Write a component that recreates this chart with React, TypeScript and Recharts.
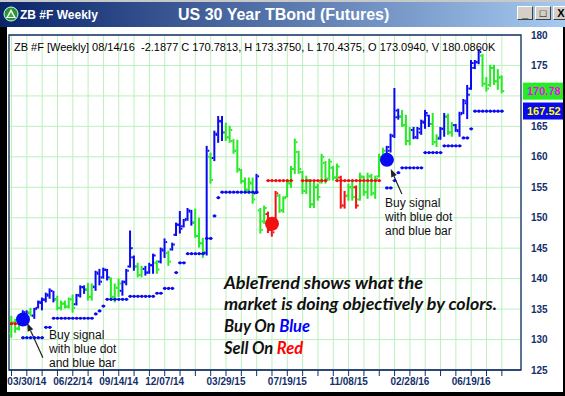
import React from 'react';
import {
  ComposedChart, Bar, Scatter, XAxis, YAxis, CartesianGrid,
  ReferenceArea, ReferenceLine,
} from 'recharts';

// ---- weekly OHLC bars (week 0 = 03/02/14 ... week 128 = 08/14/16) ----
const highs = [
  133.9, 133.4, 134.1, 134.8, 134.8, 135.2, 135.2, 136.4, 136.9, 137.7,
  138.4, 138.0, 137.2, 136.4, 136.4, 136.9, 137.4, 137.5, 138.9, 138.9,
  139.3, 139.2, 141.3, 141.6, 141.8, 141.6, 140.2, 139.2, 140.0, 139.7,
  141.6, 147.9, 143.8, 142.6, 142.1, 142.1, 142.6, 144.1, 143.0, 145.1,
  146.6, 144.6, 145.9, 149.2, 151.1, 149.8, 151.6, 151.3, 151.5, 150.0,
  146.7, 161.8, 160.7, 164.3, 166.7, 166.7, 165.6, 165.1, 162.9, 162.8,
  158.0, 156.6, 156.6, 156.6, 157.2, 151.6, 152.0, 151.0, 149.5, 154.4,
  153.9, 153.5, 156.1, 158.5, 163.0, 161.0, 157.7, 156.9, 156.1, 156.1,
  155.6, 160.5, 159.3, 159.7, 158.5, 158.9, 156.9, 154.4, 155.6, 156.1,
  155.3, 157.4, 156.9, 157.4, 157.2, 156.9, 160.5, 161.5, 161.8, 163.8,
  171.3, 167.9, 167.7, 166.9, 164.9, 164.9, 164.9, 166.1, 167.7, 166.9,
  167.2, 163.7, 164.9, 167.2, 167.1, 165.7, 165.4, 167.4, 169.5, 171.8,
  175.9, 175.9, 177.7, 176.9, 173.1, 175.1, 175.1, 174.4, 173.375,
];
const lows = [
  130.3, 131.1, 131.5, 132.3, 133.1, 133.8, 133.4, 135.1, 134.8, 136.1,
  136.7, 136.1, 134.8, 134.8, 135.1, 135.1, 134.4, 135.6, 136.9, 137.5,
  136.4, 136.4, 138.0, 138.9, 140.0, 139.7, 136.4, 136.1, 137.0, 137.2,
  138.9, 141.8, 141.3, 140.2, 140.2, 140.5, 140.8, 140.8, 140.8, 142.5,
  143.4, 142.1, 144.6, 147.0, 147.4, 148.4, 149.5, 148.7, 146.7, 145.1,
  143.4, 143.8, 155.6, 159.3, 162.3, 162.6, 162.6, 162.3, 160.5, 157.4,
  155.6, 154.0, 154.0, 152.3, 153.9, 147.4, 149.0, 147.5, 146.9, 148.4,
  150.8, 150.8, 153.3, 154.9, 157.2, 157.2, 153.9, 153.9, 151.6, 151.6,
  152.8, 155.6, 155.6, 156.1, 156.1, 156.1, 151.5, 151.5, 152.8, 152.8,
  151.5, 152.8, 153.6, 153.1, 153.6, 153.1, 156.6, 159.3, 159.3, 160.7,
  163.1, 166.1, 164.9, 161.9, 161.9, 162.9, 162.9, 163.6, 164.6, 164.9,
  161.9, 161.6, 162.8, 163.3, 163.6, 163.3, 164.1, 163.3, 167.0, 166.2,
  171.0, 174.4, 175.2, 171.5, 170.7, 171.5, 171.8, 171.0, 170.4375,
];
const opens = [
  131.0, 132.8, 131.8, 132.6, 133.5, 134.4, 133.9, 135.2, 136.0, 136.5,
  137.2, 138.0, 136.6, 135.2, 135.9, 135.4, 136.6, 135.8, 137.2, 138.6,
  138.2, 137.0, 138.6, 140.8, 140.2, 141.4, 140.0, 137.0, 138.5, 138.0,
  139.4, 142.0, 143.5, 142.0, 140.6, 141.6, 141.0, 142.2, 142.6, 142.8,
  144.6, 144.2, 144.8, 147.2, 148.8, 148.6, 149.8, 151.0, 149.2, 147.0,
  145.8, 144.2, 160.0, 159.8, 163.6, 165.8, 164.0, 163.2, 162.6, 161.0,
  157.8, 156.0, 154.6, 155.6, 154.0, 151.2, 149.4, 150.6, 148.0, 148.6,
  153.6, 151.2, 153.4, 155.6, 158.0, 160.8, 157.5, 154.4, 156.0, 152.2,
  155.0, 155.8, 159.0, 156.4, 158.2, 156.6, 156.6, 152.0, 153.6, 155.0,
  155.0, 153.0, 156.6, 154.2, 156.8, 154.0, 156.8, 159.6, 159.6, 161.0,
  163.4, 167.6, 166.6, 165.2, 162.6, 164.4, 163.2, 164.0, 165.6, 166.8,
  165.4, 162.4, 163.0, 164.6, 166.6, 164.0, 165.2, 164.2, 167.2, 168.8,
  171.2, 174.6, 175.5, 176.6, 172.0, 171.8, 174.6, 172.4, 173.094,
];
const closes = [
  132.8, 131.8, 133.5, 134.5, 134.4, 134.0, 135.0, 136.2, 136.6, 137.4,
  138.0, 136.6, 135.2, 135.9, 135.4, 136.6, 135.2, 137.3, 138.6, 138.2,
  137.0, 138.8, 141.0, 139.5, 141.5, 140.2, 137.0, 138.5, 139.2, 139.5,
  141.3, 145.0, 142.0, 140.6, 141.6, 141.0, 142.2, 143.8, 141.5, 144.8,
  146.0, 142.8, 145.6, 148.9, 148.2, 149.6, 151.2, 149.2, 147.0, 145.8,
  144.4, 161.0, 156.2, 163.8, 165.9, 164.0, 163.2, 164.4, 161.0, 158.0,
  156.0, 154.6, 155.8, 153.0, 156.8, 148.0, 151.6, 148.0, 147.6, 154.0,
  151.2, 153.2, 155.8, 158.0, 162.4, 158.0, 154.4, 156.2, 152.2, 155.0,
  153.4, 160.0, 156.4, 159.2, 156.6, 158.4, 152.0, 153.6, 155.0, 153.4,
  152.0, 156.8, 154.2, 156.8, 154.0, 156.4, 160.0, 161.0, 161.6, 163.5,
  166.5, 166.6, 165.2, 162.6, 164.4, 163.2, 164.6, 165.8, 167.2, 165.4,
  162.4, 163.2, 164.6, 166.6, 164.0, 165.2, 164.4, 167.0, 169.2, 170.2,
  175.4, 175.6, 177.2, 172.0, 171.2, 174.6, 172.4, 172.97, 170.7813,
];
// AbleTrend colour of each bar: B = up trend, G = neutral, R = down trend
const trendColors = [
  'G','G','G','B','B','G','B','B','B','B',
  'B','B','G','G','G','G','G','B','B','B',
  'G','G','B','B','B','B','G','G','G','B',
  'B','B','B','G','G','B','B','B','G','B',
  'B','G','B','B','B','B','B','B','G','G',
  'G','B','G','B','B','B','G','G','G','G',
  'G','G','G','G','B','G','G','R','R','R',
  'G','G','G','G','G','G','G','G','G','G',
  'G','G','G','G','G','G','R','R','G','G',
  'R','G','G','G','G','G','G','G','B','B',
  'B','B','G','G','G','B','B','B','B','B',
  'G','G','B','B','G','G','B','B','B','B',
  'B','B','B','G','G','G','G','G','G',
];

// ---- stop levels: [first week, last week, level] ----
const blueStopRuns = [
  [3, 8, 130.3], [9, 10, 132.0], [11, 21, 133.5], [22, 22, 134.2], [23, 23, 134.7],
  [24, 24, 135.5], [25, 30, 136.6], [31, 37, 137.1], [38, 39, 137.6], [40, 42, 138.4],
  [43, 43, 141.0], [44, 45, 142.6], [46, 50, 144.1], [51, 52, 146.6], [53, 53, 150.3],
  [54, 54, 153.3], [55, 64, 154.2],
  [98, 99, 154.9], [100, 100, 156.1], [101, 101, 157.4], [102, 107, 158.2],
  [108, 112, 160.7], [113, 117, 161.8], [118, 119, 163.1], [120, 120, 164.6],
  [121, 128, 167.5],
];
const redStopRuns = [
  [0, 2, 132.6], [67, 73, 156.1], [76, 82, 156.1], [85, 96, 156.1],
];
// ---- signal dots ----
const buySignals = [{ i: 3, v: 133.3 }, { i: 98, v: 159.5 }];
const sellSignals = [{ i: 68, v: 149.0 }];

// ---- axis ticks ----
const xTickWeeks = [0, 4, 8, 12, 16, 20, 24, 28, 32, 36, 40, 44, 48, 52, 56, 60, 64,
  68, 72, 76, 80, 84, 88, 92, 96, 100, 104, 108, 112, 116, 120, 124, 128];
const labelWeeks = [4, 16, 28, 40, 56, 72, 88, 104, 120];
const labelTexts = ['03/30/14', '06/22/14', '09/14/14', '12/07/14', '03/29/15',
  '07/19/15', '11/08/15', '02/28/16', '06/19/16'];
const yTicks = [125, 130, 135, 140, 145, 150, 155, 160, 165, 170, 175, 180];
// tick label hidden behind the last-price tag
const yHiddenLabels = [170];

const lastClose = 170.7813;
const lastStop = 167.52;

const COLORS: Record<string, string> = { B: '#0a0af2', G: '#26ea26', R: '#f21010' };
const NAVY = '#14306a';
const FONT = '"Liberation Sans", Arial, sans-serif';

const bars = highs.map((h, i) => ({
  i, range: [lows[i], h], o: opens[i], c: closes[i], col: trendColors[i],
}));
const expand = (runs: number[][]) =>
  runs.flatMap(([a, b, v]) => {
    const out: { i: number; v: number }[] = [];
    for (let k = a; k <= b; k++) out.push({ i: k, v });
    return out;
  });
const blueStops = expand(blueStopRuns);
const redStops = expand(redStopRuns);

const OhlcShape = (props: any) => {
  const { x, y, width, height, payload } = props;
  if (x == null || y == null) return null;
  const top = Math.min(y, y + height);
  const h = Math.abs(height);
  const cx = x + width / 2;
  const [lo, hi] = payload.range;
  const span = hi - lo || 1;
  const yo = top + ((hi - payload.o) / span) * h;
  const yc = top + ((hi - payload.c) / span) * h;
  const color = COLORS[payload.col];
  return (
    <g>
      <rect x={cx - 1} y={top} width={2} height={Math.max(h, 1)} fill={color} />
      <rect x={cx - 2.6} y={yo - 1} width={1.6} height={2} fill={color} />
      <rect x={cx + 1} y={yc - 1} width={1.6} height={2} fill={color} />
    </g>
  );
};

const stopShape = (color: string) => (props: any) => {
  const { cx, cy } = props;
  return (
    <g>
      <rect x={cx - 1.95} y={cy - 0.6} width={3.9} height={1.2} fill={color} />
      <circle cx={cx} cy={cy} r={1.6} fill={color} />
    </g>
  );
};

const bigDot = (color: string) => (props: any) => (
  <circle cx={props.cx} cy={props.cy} r={7} fill={color} />
);

const Arrow = (props: any) => {
  const { x1, y1, x2, y2 } = props;
  const ang = Math.atan2(y2 - y1, x2 - x1);
  const L = 8, W = 3;
  const bx = x2 - L * Math.cos(ang), by = y2 - L * Math.sin(ang);
  const px = -Math.sin(ang) * W, py = Math.cos(ang) * W;
  return (
    <g>
      <line x1={x1} y1={y1} x2={bx} y2={by} stroke="#222" strokeWidth={1.2} />
      <polygon points={`${x2},${y2} ${bx + px},${by + py} ${bx - px},${by - py}`} fill="#222" />
    </g>
  );
};

const PriceTag = (props: any) => {
  const { viewBox, text, bg, fg } = props;
  if (!viewBox) return null;
  const right = viewBox.x + viewBox.width;
  const cy = viewBox.y;
  return (
    <g>
      <rect x={right + 2} y={cy - 8.5} width={50} height={17} fill={bg} />
      <text x={right + 6} y={cy + 4} fill={fg} fontSize={11} fontWeight="bold" fontFamily={FONT}>{text}</text>
    </g>
  );
};

const WinButton = ({ left, children }: { left: number; children: React.ReactNode }) => (
  <div style={{
    position: 'absolute', left, top: 6, width: 16, height: 14, background: '#d4d0c8',
    borderTop: '1px solid #fff', borderLeft: '1px solid #fff',
    borderRight: '1px solid #404040', borderBottom: '1px solid #404040', boxSizing: 'border-box',
    fontFamily: FONT, fontWeight: 'bold', fontSize: 11, lineHeight: '12px', textAlign: 'center', color: '#000',
  }}>{children}</div>
);

export default function App() {
  const headerText = 'ZB #F [Weekly] 08/14/16  -2.1877 C 170.7813, H 173.3750, L 170.4375, O 173.0940, V 180.0860K';
  return (
    <div style={{ position: 'absolute', left: 0, top: 0, width: 565, height: 396, background: '#000', overflow: 'hidden' }}>
      <div style={{ position: 'absolute', left: 0, top: 0, width: 565, height: 2, background: '#c8c8c8' }} />
      <div style={{
        position: 'absolute', left: 0, top: 2, width: 565, height: 25,
        background: 'linear-gradient(to right, #0a246a, #a6caf0)',
      }} />
      <svg width={18} height={18} style={{ position: 'absolute', left: 3, top: 6 }}>
        <circle cx={8} cy={8} r={7} fill="#2f8f3a" stroke="#cfe" strokeWidth={1} />
        <polygon points="8,3 13,12 3,12" fill="#fff" />
        <polygon points="8,6 11,11 5,11" fill="#3cb043" />
      </svg>
      <div style={{ position: 'absolute', left: 20, top: 7, color: '#fff', fontFamily: FONT, fontWeight: 'bold', fontSize: 12, lineHeight: '16px' }}>ZB #F Weekly</div>
      <div style={{ position: 'absolute', left: 178, top: 5, color: '#fff', fontFamily: FONT, fontWeight: 'bold', fontSize: 16, lineHeight: '20px', whiteSpace: 'nowrap' }}>US 30 Year TBond (Futures)</div>
      <WinButton left={517}>_</WinButton>
      <WinButton left={535}>□</WinButton>
      <WinButton left={553}>X</WinButton>
      <div style={{ position: 'absolute', left: 7, top: 27, width: 556, height: 365, background: '#fff' }} />
      <div style={{ position: 'absolute', left: 0, top: 0 }}>
        <ComposedChart width={563} height={396} data={bars} margin={{ top: 35, right: 2, bottom: 5, left: 9 }}>
          <CartesianGrid stroke="#bdf0bd" strokeWidth={1} />
          <XAxis
            type="number" dataKey="i" domain={[-0.65, 133]} allowDataOverflow
            ticks={xTickWeeks} interval={0} height={21}
            tickFormatter={(v: number) => { const k = labelWeeks.indexOf(v); return k >= 0 ? labelTexts[k] : ''; }}
            tick={{ fill: NAVY, fontSize: 10, fontWeight: 'bold', fontFamily: FONT }}
            tickLine={{ stroke: NAVY }} axisLine={{ stroke: NAVY }} tickSize={6} tickMargin={2}
          />
          <YAxis
            type="number" orientation="right" domain={[125, 180]} allowDataOverflow
            ticks={yTicks} interval={0} width={40}
            tickFormatter={(v: number) => (yHiddenLabels.includes(v) ? '' : String(v))}
            tick={{ fill: NAVY, fontSize: 10, fontWeight: 'bold', fontFamily: FONT }}
            tickLine={false} axisLine={false} tickSize={6} tickMargin={4}
          />
          <ReferenceArea x1={-0.65} x2={133} y1={125} y2={180} fill="none" stroke={NAVY} strokeWidth={1.3} ifOverflow="visible" />
          <Bar dataKey="range" barSize={4} shape={<OhlcShape />} isAnimationActive={false} />
          <Scatter data={blueStops} dataKey="v" shape={stopShape('#0a0aee')} isAnimationActive={false} />
          <Scatter data={redStops} dataKey="v" shape={stopShape('#ee1010')} isAnimationActive={false} />
          <Scatter data={buySignals} dataKey="v" shape={bigDot('#0a0af2')} isAnimationActive={false} />
          <Scatter data={sellSignals} dataKey="v" shape={bigDot('#f21010')} isAnimationActive={false} />
          <ReferenceLine segment={[{ x: 8.2, y: 127.0 }, { x: 4.1, y: 132.7 }]} shape={<Arrow />} ifOverflow="visible" />
          <ReferenceLine segment={[{ x: 101.9, y: 153.9 }, { x: 99.0, y: 158.0 }]} shape={<Arrow />} ifOverflow="visible" />
          <ReferenceLine y={lastClose} stroke="none" ifOverflow="visible"
            label={<PriceTag text="170.78" bg="#22ee22" fg="#ff00ff" />} />
          <ReferenceLine y={lastStop} stroke="none" ifOverflow="visible"
            label={<PriceTag text="167.52" bg="#0a0af0" fg="#ffff00" />} />
        </ComposedChart>
      </div>
      <svg width={565} height={396} style={{ position: 'absolute', left: 0, top: 0, pointerEvents: 'none' }}>
        <text x={14} y={51} fontSize={11} fontFamily={FONT} fill="#000" style={{ whiteSpace: 'pre' }}>{headerText}</text>
        <text fontSize={12} fontFamily={FONT} fill="#111">
          <tspan x={49} y={339}>Buy signal</tspan>
          <tspan x={49} y={353}>with blue dot</tspan>
          <tspan x={49} y={367}>and blue bar</tspan>
        </text>
        <text fontSize={12} fontFamily={FONT} fill="#111">
          <tspan x={385} y={207}>Buy signal</tspan>
          <tspan x={385} y={221}>with blue dot</tspan>
          <tspan x={385} y={235}>and blue bar</tspan>
        </text>
        <g fontFamily="Lato, 'Open Sans', sans-serif" fontWeight={700} fontStyle="italic" fontSize={16.5} fill="#111">
          <text x={224} y={288.5} textLength={199} lengthAdjust="spacingAndGlyphs">AbleTrend shows what the</text>
          <text x={224} y={310} textLength={273} lengthAdjust="spacingAndGlyphs">market is doing objectively by colors.</text>
          <text x={224} y={332}>Buy On <tspan fill="#0000ff">Blue</tspan></text>
          <text x={224} y={353.5}>Sell On <tspan fill="#ff0000">Red</tspan></text>
        </g>
      </svg>
    </div>
  );
}
